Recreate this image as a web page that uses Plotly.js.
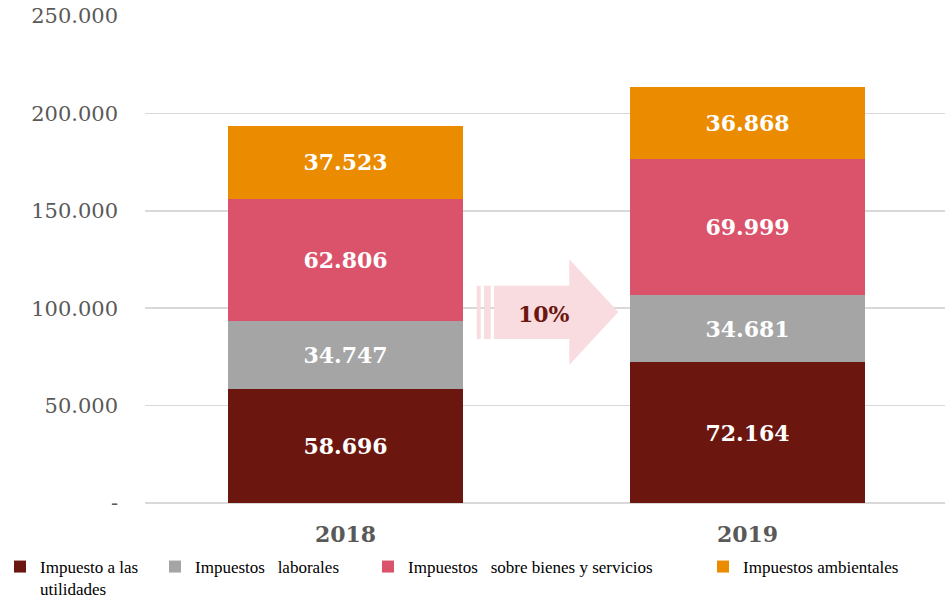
<!DOCTYPE html>
<html>
<head>
<meta charset="utf-8">
<script src="https://cdn.plot.ly/plotly-3.0.1.min.js"></script>
<style>html,body{margin:0;padding:0;background:#fff;}#chart{width:945px;height:598px;}</style>
</head>
<body>
<div id="chart"></div>
<script>
// ---- data ----
const years = ['2018', '2019'];
const seriesNames = ['Impuesto a las<br>utilidades', 'Impuestos\u00a0\u00a0\u00a0laborales', 'Impuestos\u00a0\u00a0\u00a0sobre bienes y servicios', 'Impuestos ambientales'];
const utilidades = [58696, 72164];
const laborales = [34747, 34681];
const bienesServicios = [62806, 69999];
const ambientales = [37523, 36868];
const growthLabel = '10%';
const yTickVals = [0, 50000, 100000, 150000, 200000, 250000];
const yTickText = ['-', '50.000', '100.000', '150.000', '200.000', '250.000'];

// ---- styling ----
const colors = ['#6B1710', '#A5A5A5', '#DB536B', '#EA8B00'];
const serif = 'DejaVu Serif';
const W = 945, H = 598;
const M = {l: 145, r: 0, t: 16, b: 95};
const PW = W - M.l - M.r, PH = H - M.t - M.b;
const px = x => (x - M.l) / PW;
const py = y => (H - M.b - y) / PH;
const fmt = v => v.toLocaleString('de-DE');

const values = [utilidades, laborales, bienesServicios, ambientales];
const legendIds = ['legend', 'legend2', 'legend3', 'legend4'];
const legendX = [0, 155, 368, 703];

const traces = values.map((vals, i) => ({
  type: 'bar',
  name: seriesNames[i],
  x: years,
  y: vals,
  text: vals.map(fmt),
  textposition: 'inside',
  insidetextanchor: 'middle',
  textangle: 0,
  constraintext: 'none',
  textfont: {family: serif, size: 22, color: '#FFFFFF', weight: 'bold'},
  marker: {color: colors[i], line: {width: 0}},
  legend: legendIds[i],
  hoverinfo: 'none'
}));

const layout = {
  width: W, height: H,
  margin: M,
  paper_bgcolor: '#FFFFFF',
  plot_bgcolor: '#FFFFFF',
  barmode: 'stack',
  bargap: 0.4154,
  font: {family: serif, color: '#595959'},
  xaxis: {
    type: 'category',
    range: [-0.4988, 1.4913],
    showgrid: false,
    showline: false,
    ticks: '',
    ticklabelstandoff: 16,
    tickfont: {family: serif, size: 22, color: '#595959', weight: 'bold'}
  },
  yaxis: {
    range: [0, 250000],
    tickvals: yTickVals,
    ticktext: yTickText,
    ticks: '',
    ticklabelstandoff: 26,
    tickfont: {family: serif, size: 21, color: '#595959'},
    showgrid: true,
    gridcolor: '#D9D9D9',
    gridwidth: 1.5,
    zeroline: true,
    zerolinecolor: '#D9D9D9',
    zerolinewidth: 2,
    showline: false
  },
  showlegend: true,
  shapes: [
    {type: 'path', xref: 'paper', yref: 'paper', line: {width: 0}, fillcolor: '#F8DCDF', layer: 'above',
     path: `M${px(476.7)},${py(285.7)} L${px(480.7)},${py(285.7)} L${px(480.7)},${py(339)} L${px(476.7)},${py(339)} Z`},
    {type: 'path', xref: 'paper', yref: 'paper', line: {width: 0}, fillcolor: '#F8DCDF', layer: 'above',
     path: `M${px(484)},${py(285.7)} L${px(490.7)},${py(285.7)} L${px(490.7)},${py(339)} L${px(484)},${py(339)} Z`},
    {type: 'path', xref: 'paper', yref: 'paper', line: {width: 0}, fillcolor: '#F8DCDF', layer: 'above',
     path: `M${px(494)},${py(285.7)} L${px(569.3)},${py(285.7)} L${px(569.3)},${py(259.3)} L${px(618.3)},${py(312)} L${px(569.3)},${py(365)} L${px(569.3)},${py(339)} L${px(494)},${py(339)} Z`}
  ],
  annotations: [
    {xref: 'paper', yref: 'paper', x: px(544), y: py(314), text: growthLabel, showarrow: false,
     font: {family: serif, size: 22, color: '#6B1710', weight: 'bold'}, xanchor: 'center', yanchor: 'middle'}
  ]
};

legendIds.forEach((id, i) => {
  layout[id] = {
    xref: 'container', yref: 'container',
    x: legendX[i] / W, xanchor: 'left',
    y: 1 - 549 / H, yanchor: 'top',
    orientation: 'h',
    bgcolor: 'rgba(0,0,0,0)',
    borderwidth: 0,
    valign: 'top',
    itemwidth: 30,
    font: {family: 'Liberation Serif', size: 17, color: '#000000'}
  };
});

Plotly.newPlot('chart', traces, layout, {staticPlot: true, displayModeBar: false});
</script>
</body>
</html>
